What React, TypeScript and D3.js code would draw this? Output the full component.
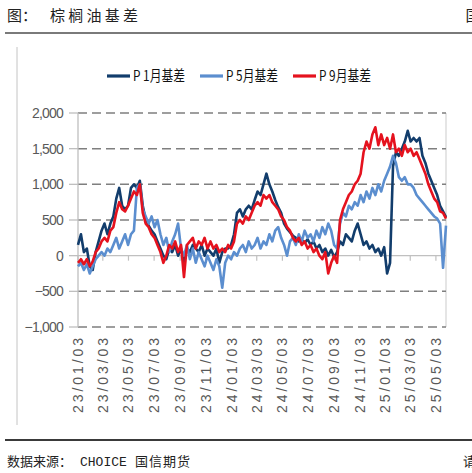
import React from "react";
import * as d3 from "d3";

// Weekly readings of the palm oil basis (yuan/ton), starting 2023-01-03
const START_DATE = "2023-01-03";
const STEP_DAYS = 7;

const p1Basis = [
  150, 300, 50, 100, -150, -200, 50, 200, 350, 450,
  300, 450, 550, 800, 950, 700, 650, 700, 950, 1000,
  950, 1050, 700, 500, 420, 350, 300, 200, 100, 0,
  -50, 100, 50, 150, 0, 100, -100, 100, 50, 150,
  100, 50, 150, 0, 100, 50, 0, 100, -100, 50,
  100, 100, 150, 300, 600, 650, 550, 650, 700, 650,
  780, 900, 850, 1000, 1150, 1000, 900, 780, 680, 600,
  450, 380, 330, 280, 250, 200, 220, 180, 230, 150,
  200, 100, 150, 50, 100, 0, 80, -20, 50, 200,
  150, 300, 250, 200, 350, 450, 300, 150, 200, 100,
  150, 50, 100, 0, 120, -250, -100, 1250, 1450, 1400,
  1500, 1600, 1750, 1600, 1650, 1600, 1650, 1400, 1300, 1150,
  1050, 950, 850, 700, 620, 540,
];

const p5Basis = [
  -150, -100, -200, -120, -250, -150, -50, 0, 50, 0,
  100, 50, 150, 250, 100, 200, 300, 150, 300, 350,
  950, 1000, 650, 550, 450, 550, 400, 500, 300, 150,
  250, 50, 200, 300, 450, 100, 0, 150, -50, 100,
  -100, 50, -50, -150, 0, -100, -200, -50, -150, -450,
  -100, 0, -50, 50, 0, 100, 150, 50, 200, 100,
  150, 250, 100, 200, 150, 300, 200, 350, 400, 250,
  150, 0, 200, 250, 150, 300, 200, 350, 250, 300,
  200, 350, 250, 400, 300, 450, 350, 150, 100, 450,
  600, 550, 700, 650, 750, 700, 850, 750, 900, 800,
  950, 850, 1000, 900, 1050, 1150, 1250, 1400, 1300, 1100,
  1050, 1100, 1000, 1000, 950, 850, 800, 750, 700, 650,
  600, 550, 520, 450, -170, 420,
];

const p9Basis = [
  -100, -50, -120, -50, -150, -80, 50, 100, 200, 250,
  200, 350, 400, 600, 750, 650, 620, 700, 800, 900,
  850, 1000, 600, 450, 400, 300, 250, 150, 50, -100,
  0, 150, 100, 200, 50, 150, -300, 150, 200, 250,
  100, 200, 150, 250, 100, 200, 100, 150, 50, 100,
  50, 150, 100, 200, 450, 500, 450, 550, 500, 600,
  700, 750, 700, 850, 800, 850, 750, 700, 650, 550,
  500, 400, 350, 250, 200, 250, 150, 200, 100, 150,
  50, 100, 0, -50, 50, -250, -100, 0, -100, 500,
  650, 750, 850, 900, 1000, 1050, 1150, 1450, 1600, 1500,
  1700, 1800, 1550, 1700, 1550, 1650, 1500, 1700, 1450, 1500,
  1400, 1550, 1450, 1500, 1400, 1450, 1350, 1250, 1150, 1000,
  900, 800, 750, 620, 600, 520,
];

const seriesNames = ["P 1月基差", "P 5月基差", "P 9月基差"];
const seriesColors = ["#123d6c", "#5b8ecf", "#e5121e"];

const xTickLabels = [
  "23/01/03", "23/03/03", "23/05/03", "23/07/03", "23/09/03",
  "23/11/03", "24/01/03", "24/03/03", "24/05/03", "24/07/03",
  "24/09/03", "24/11/03", "25/01/03", "25/03/03", "25/05/03",
];
const yTicks = [-1000, -500, 0, 500, 1000, 1500, 2000];

const W = 472;
const H = 473;
const PLOT = { left: 78, right: 446, top: 113, bottom: 327 };

export default function App() {
  const start = d3.timeParse("%Y-%m-%d")(START_DATE) as Date;
  const dates = p1Basis.map((_, i) => d3.timeDay.offset(start, i * STEP_DAYS));
  const x = d3
    .scaleTime()
    .domain([dates[0], dates[dates.length - 1]])
    .range([PLOT.left, PLOT.right]);
  const y = d3.scaleLinear().domain([-1000, 2000]).range([PLOT.bottom, PLOT.top]);
  const parseTick = d3.timeParse("%y/%m/%d");
  const fmt = d3.format(",");

  const series = [p1Basis, p5Basis, p9Basis];
  const line = (vals: number[]) =>
    d3
      .line<number>()
      .x((_, i) => x(dates[i]))
      .y((v) => y(v))(vals) as string;

  const legendX = [107, 200, 293];
  const cjk = "'Noto Sans CJK SC', 'Noto Sans', sans-serif";
  const sans = "'Liberation Sans', Arial, sans-serif";

  return (
    <svg
      width={W}
      height={H}
      style={{ position: "absolute", left: 0, top: 0, background: "#fff" }}
      xmlns="http://www.w3.org/2000/svg"
    >
      <rect width={W} height={H} fill="#fff" />
      {/* header */}
      <text x={7} y={20.5} fontFamily={cjk} fontSize={15} fill="#222">图：</text>
      <text x={50} y={20.5} fontFamily={cjk} fontSize={15} fill="#222" textLength={88} lengthAdjust="spacing">
        棕榈油基差
      </text>
      <text x={465.5} y={20.5} fontFamily={cjk} fontSize={15} fill="#222">国</text>
      <line x1={5} x2={W} y1={33} y2={33} stroke="#7a7a7a" strokeWidth={2} />
      <line x1={17} x2={17} y1={47} y2={425} stroke="#c4c4c4" strokeWidth={1} />

      {/* legend */}
      {seriesNames.map((name, k) => (
        <g key={name}>
          <line x1={legendX[k]} x2={legendX[k] + 23} y1={76} y2={76} stroke={seriesColors[k]} strokeWidth={3.2} />
          <text
            x={legendX[k] + 26}
            y={76}
            dy="0.36em"
            fontFamily={cjk}
            fontSize={14.5}
            fill="#111"
            textLength={52}
            lengthAdjust="spacingAndGlyphs"
          >
            {name}
          </text>
        </g>
      ))}

      {/* plot frame */}
      <line x1={PLOT.right} x2={PLOT.right} y1={PLOT.top} y2={PLOT.bottom} stroke="#d4d4d4" strokeWidth={1.2} />
      {yTicks
        .filter((t) => t !== 0)
        .map((t) => (
          <line
            key={t}
            x1={PLOT.left}
            x2={PLOT.right}
            y1={y(t)}
            y2={y(t)}
            stroke="#7f7f7f"
            strokeWidth={1.5}
            strokeDasharray="9,5"
          />
        ))}
      <line x1={PLOT.left} x2={PLOT.left} y1={PLOT.top} y2={PLOT.bottom} stroke="#bfbfbf" strokeWidth={1.3} />
      {yTicks.map((t) => (
        <g key={"yt" + t}>
          <line x1={PLOT.left - 9} x2={PLOT.left} y1={y(t)} y2={y(t)} stroke="#bfbfbf" strokeWidth={1.3} />
          <text
            x={63}
            y={y(t)}
            dy="0.36em"
            textAnchor="end"
            fontFamily={sans}
            fontSize={14}
            fill="#595959"
            letterSpacing={-0.8}
          >
            {fmt(t)}
          </text>
        </g>
      ))}
      <line x1={PLOT.left} x2={PLOT.right} y1={y(0)} y2={y(0)} stroke="#c0c0c0" strokeWidth={1.3} />
      {xTickLabels.map((lab) => {
        const tx = x(parseTick(lab) as Date);
        return (
          <g key={lab}>
            <line x1={tx} x2={tx} y1={y(0)} y2={y(0) + 5} stroke="#c0c0c0" strokeWidth={1.2} />
            <text
              transform={`translate(${tx + 5},338) rotate(-90)`}
              textAnchor="end"
              fontFamily={sans}
              fontSize={14}
              fill="#595959"
              textLength={75}
              lengthAdjust="spacing"
            >
              {lab}
            </text>
          </g>
        );
      })}

      {/* series */}
      {series.map((vals, k) => (
        <path
          key={k}
          d={line(vals)}
          fill="none"
          stroke={seriesColors[k]}
          strokeWidth={2.6}
          strokeLinejoin="round"
        />
      ))}

      {/* footer */}
      <line x1={5} x2={W} y1={440} y2={440} stroke="#3a3a3a" strokeWidth={2} />
      <text x={7} y={466} fontFamily={cjk} fontSize={13} fill="#222">数据来源：</text>
      <text x={80} y={466} fontFamily="'Liberation Mono', 'DejaVu Sans Mono', monospace" fontSize={13} fill="#222">
        CHOICE
      </text>
      <text x={135} y={466} fontFamily={cjk} fontSize={13} fill="#222" letterSpacing={1}>国信期货</text>
      <text x={463} y={466} fontFamily={cjk} fontSize={13} fill="#222">请</text>
    </svg>
  );
}
